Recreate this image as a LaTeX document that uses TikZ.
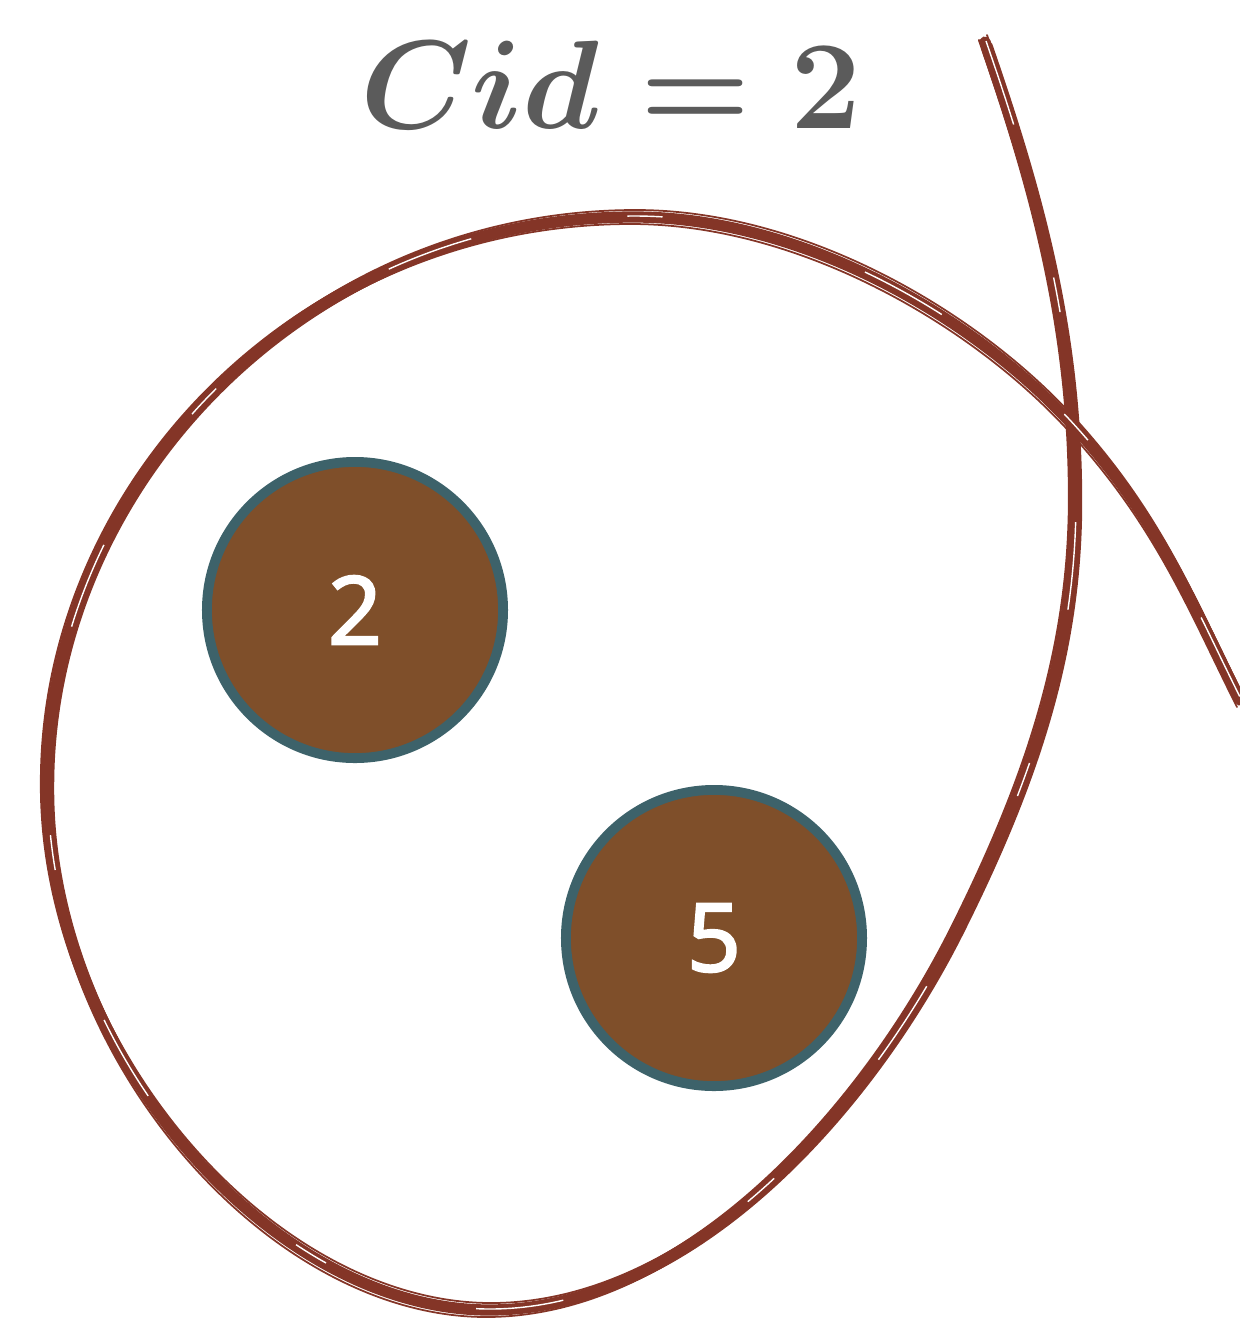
\documentclass[tikz,border=0pt]{standalone}
\usepackage{fontspec}
\usepackage{amsmath}
\newfontfamily\beadfont[RawFeature={embolden=2}]{Noto Sans}
\definecolor{looprust}{HTML}{843527}
\definecolor{beadfill}{HTML}{7F4F2A}
\definecolor{beadedge}{HTML}{3D626A}
\definecolor{titlegray}{HTML}{5B5B5B}
\usetikzlibrary{positioning}

% the hand drawn loop, in pixel units
\newcommand{\looppath}{(985,42)
  .. controls (1037,192) and (1075,330) .. (1075,500)
  .. controls (1075,650) and (1032,780) .. (957,930)
  .. controls (867,1110) and (689,1310) .. (489,1310)
  .. controls (270,1310) and (45,1050) .. (47,784)
  .. controls (47,484) and (304,217) .. (634,217)
  .. controls (800,217) and (970,315) .. (1068,420)
  .. controls (1158,517) and (1190,600) .. (1240,700)}

\tikzset{
  bead/.style={circle, draw=beadedge, fill=beadfill, line width=2.8pt,
    minimum size=2.96cm, inner sep=0pt, text=white,
    font=\beadfont\fontsize{27}{30}\selectfont},
  titletext/.style={text=titlegray, inner sep=0pt, scale=1.44,
    font=\fontsize{24.88}{28}\selectfont\boldmath},
  brush/.style={looprust, line cap=round}
}

\begin{document}
\begin{tikzpicture}[x=0.01cm, y=-0.01cm]
  \useasboundingbox (0,0) rectangle (1240,1323);

  % title
  \node[titletext, anchor=base] (title) at (611,128) {$Cid = 2$};

  % loop, drawn a few times for the sketchy look
  \draw[brush, line width=3.2pt] \looppath;
  \foreach \dx/\dy/\lw in {6/2/0.7, -6/-2/0.6, 2/-7/0.5, -3/7/0.5}
    \draw[brush, line width=\lw pt, shift={(\dx,\dy)}] \looppath;
  \draw[white, line width=0.4pt, dash pattern=on 25pt off 45pt on 10pt off 60pt, shift={(1,-1)}] \looppath;

  % members
  \node[bead] (two) at (355,610) {2};
  \node[bead] (five) at (714,938) {5};
\end{tikzpicture}
\end{document}
